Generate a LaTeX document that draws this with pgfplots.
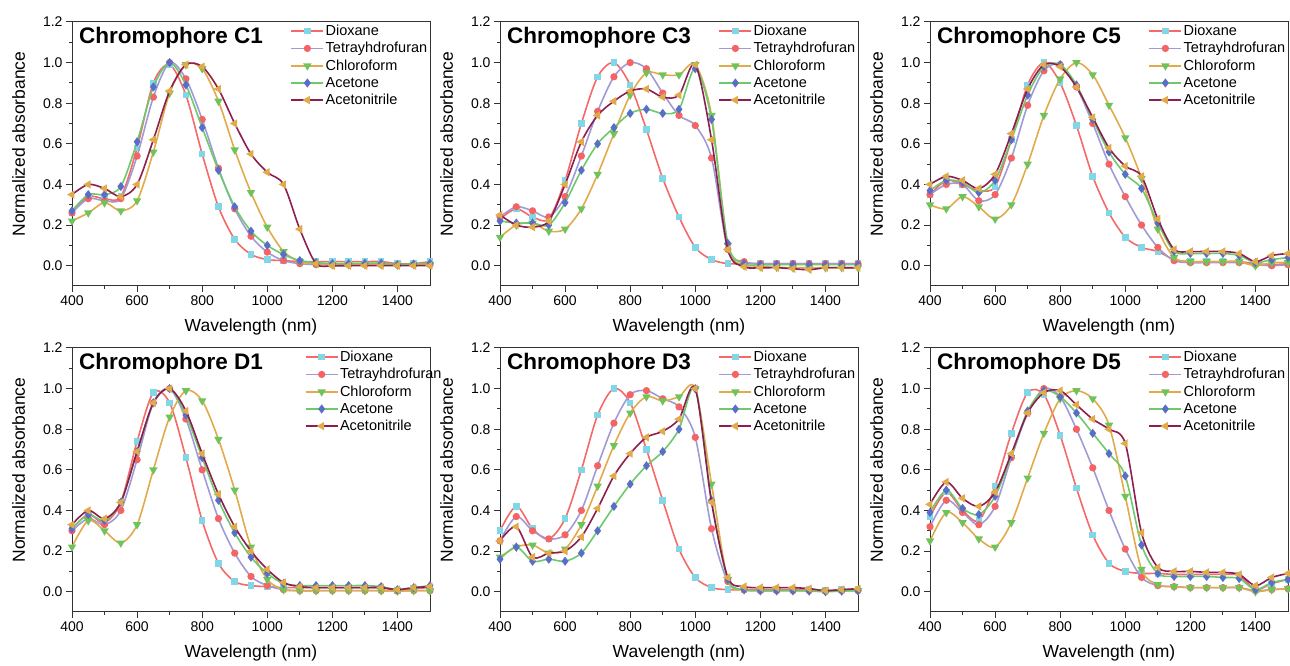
\documentclass[border=0pt]{standalone}
\usepackage{fontspec}
\setmainfont{Liberation Sans}
\usepackage{pgfplots}
\usepackage{pgfplotstable}
\pgfplotsset{compat=1.18}

\definecolor{cDioL}{RGB}{245,105,105}
\definecolor{cDioM}{RGB}{130,215,230}
\definecolor{cThfL}{RGB}{160,155,215}
\definecolor{cThfM}{RGB}{245,100,100}
\definecolor{cChlL}{RGB}{225,170,75}
\definecolor{cChlM}{RGB}{110,195,90}
\definecolor{cAceL}{RGB}{110,200,110}
\definecolor{cAceM}{RGB}{90,110,200}
\definecolor{cAcnL}{RGB}{140,30,80}
\definecolor{cAcnM}{RGB}{225,170,75}

\pgfplotstableread{
x a b c d e
400 0.26 0.26 0.22 0.27 0.35
450 0.34 0.33 0.26 0.35 0.40
500 0.33 0.32 0.31 0.35 0.38
550 0.34 0.33 0.27 0.39 0.34
600 0.58 0.54 0.32 0.61 0.40
650 0.90 0.83 0.56 0.88 0.62
700 0.99 1.00 0.85 1.00 0.86
750 0.84 0.92 0.99 0.89 0.99
800 0.55 0.72 0.97 0.68 0.98
850 0.29 0.48 0.81 0.47 0.87
900 0.13 0.28 0.57 0.29 0.70
950 0.056 0.145 0.36 0.17 0.55
1000 0.03 0.067 0.19 0.10 0.46
1050 0.025 0.025 0.07 0.055 0.40
1100 0.02 0.01 0.02 0.025 0.18
1150 0.02 0.005 0.01 0.015 0.01
1200 0.02 0.005 0.005 0.01 0.0
1250 0.02 0.005 0.005 0.01 0.0
1300 0.02 0.005 0.005 0.012 0.0
1350 0.02 0.005 0.005 0.012 0.0
1400 0.01 0.003 0.003 0.005 0.0
1450 0.01 0.005 0.005 0.008 0.0
1500 0.02 0.005 0.005 0.012 0.0
}\tabCone

\pgfplotstableread{
x a b c d e
400 0.23 0.24 0.14 0.22 0.25
450 0.28 0.29 0.20 0.21 0.20
500 0.24 0.27 0.21 0.21 0.19
550 0.23 0.24 0.17 0.20 0.22
600 0.42 0.34 0.18 0.31 0.40
650 0.70 0.54 0.28 0.47 0.61
700 0.93 0.76 0.45 0.60 0.74
750 1.00 0.93 0.65 0.68 0.81
800 0.89 1.00 0.84 0.75 0.86
850 0.67 0.97 0.95 0.77 0.87
900 0.43 0.85 0.94 0.75 0.83
950 0.24 0.74 0.94 0.77 0.84
1000 0.09 0.69 0.99 0.97 0.99
1050 0.03 0.53 0.74 0.72 0.62
1100 0.01 0.08 0.10 0.11 0.08
1150 0.01 0.02 0.0 0.01 -0.005
1200 0.01 0.01 -0.005 0.005 -0.01
1250 0.01 0.01 -0.008 0.005 -0.01
1300 0.01 0.01 -0.01 0.005 -0.015
1350 0.01 0.01 -0.01 0.005 -0.02
1400 0.01 0.01 -0.01 0.005 -0.01
1450 0.01 0.01 -0.01 0.005 -0.01
1500 0.01 0.01 -0.01 0.005 -0.01
}\tabCthree

\pgfplotstableread{
x a b c d e
400 0.35 0.35 0.30 0.37 0.40
450 0.42 0.40 0.28 0.42 0.44
500 0.40 0.40 0.34 0.41 0.42
550 0.37 0.32 0.29 0.36 0.38
600 0.39 0.35 0.23 0.42 0.45
650 0.62 0.53 0.30 0.62 0.65
700 0.89 0.79 0.50 0.84 0.87
750 1.00 0.96 0.74 0.98 0.99
800 0.90 0.99 0.92 0.99 0.98
850 0.69 0.88 1.00 0.89 0.88
900 0.44 0.70 0.94 0.72 0.73
950 0.26 0.50 0.79 0.56 0.58
1000 0.14 0.34 0.63 0.45 0.49
1050 0.09 0.20 0.43 0.38 0.44
1100 0.07 0.09 0.18 0.21 0.23
1150 0.03 0.025 0.04 0.07 0.08
1200 0.02 0.015 0.02 0.06 0.07
1250 0.02 0.015 0.02 0.06 0.07
1300 0.02 0.015 0.02 0.06 0.07
1350 0.02 0.015 0.02 0.05 0.06
1400 0.01 0.005 0.0 0.015 0.02
1450 0.005 0.0 0.015 0.03 0.05
1500 0.01 0.005 0.015 0.04 0.06
}\tabCfive

\pgfplotstableread{
x a b c d e
400 0.31 0.30 0.22 0.31 0.33
450 0.38 0.36 0.35 0.38 0.40
500 0.34 0.33 0.30 0.35 0.36
550 0.44 0.40 0.24 0.44 0.44
600 0.74 0.65 0.33 0.69 0.69
650 0.98 0.93 0.60 0.93 0.93
700 0.93 1.00 0.86 1.00 1.00
750 0.66 0.85 0.99 0.87 0.89
800 0.35 0.60 0.94 0.66 0.68
850 0.14 0.36 0.75 0.45 0.48
900 0.05 0.19 0.50 0.29 0.32
950 0.03 0.075 0.22 0.17 0.20
1000 0.025 0.03 0.06 0.09 0.11
1050 0.02 0.01 0.01 0.04 0.045
1100 0.02 0.005 0.005 0.03 0.025
1150 0.02 0.005 0.005 0.03 0.02
1200 0.02 0.005 0.005 0.03 0.02
1250 0.02 0.005 0.005 0.03 0.02
1300 0.02 0.005 0.005 0.03 0.02
1350 0.02 0.005 0.005 0.025 0.02
1400 0.005 0.003 0.003 0.01 0.01
1450 0.015 0.005 0.005 0.02 0.02
1500 0.02 0.005 0.005 0.03 0.025
}\tabDone

\pgfplotstableread{
x a b c d e
400 0.30 0.25 0.17 0.16 0.25
450 0.42 0.37 0.22 0.22 0.32
500 0.31 0.30 0.23 0.15 0.17
550 0.26 0.26 0.19 0.16 0.19
600 0.36 0.28 0.21 0.15 0.20
650 0.60 0.40 0.33 0.19 0.27
700 0.87 0.62 0.52 0.30 0.41
750 1.00 0.83 0.72 0.42 0.57
800 0.93 0.97 0.88 0.53 0.68
850 0.70 0.99 0.96 0.62 0.76
900 0.45 0.95 0.94 0.69 0.79
950 0.21 0.91 0.96 0.80 0.85
1000 0.07 0.76 1.00 1.00 1.00
1050 0.02 0.31 0.53 0.45 0.44
1100 0.01 0.05 0.06 0.06 0.07
1150 0.01 0.01 0.01 0.01 0.025
1200 0.01 0.005 0.005 0.005 0.02
1250 0.01 0.005 0.005 0.005 0.02
1300 0.01 0.005 0.005 0.005 0.02
1350 0.01 0.005 0.005 0.003 0.015
1400 0.005 0.003 0.003 0.0 0.005
1450 0.01 0.005 0.005 0.003 0.01
1500 0.01 0.005 0.005 0.005 0.015
}\tabDthree

\pgfplotstableread{
x a b c d e
400 0.37 0.32 0.25 0.39 0.43
450 0.49 0.45 0.39 0.50 0.54
500 0.40 0.39 0.34 0.41 0.46
550 0.35 0.33 0.26 0.38 0.42
600 0.52 0.42 0.22 0.47 0.49
650 0.78 0.66 0.34 0.67 0.68
700 0.98 0.88 0.56 0.89 0.88
750 0.97 1.00 0.78 0.99 0.98
800 0.77 0.96 0.95 0.96 0.99
850 0.51 0.80 0.99 0.88 0.92
900 0.28 0.61 0.95 0.78 0.85
950 0.14 0.40 0.82 0.68 0.80
1000 0.10 0.21 0.47 0.57 0.73
1050 0.09 0.07 0.11 0.23 0.29
1100 0.09 0.03 0.035 0.09 0.12
1150 0.085 0.025 0.025 0.075 0.10
1200 0.085 0.02 0.02 0.075 0.10
1250 0.085 0.02 0.02 0.075 0.095
1300 0.085 0.02 0.02 0.07 0.095
1350 0.08 0.02 0.02 0.065 0.085
1400 0.01 0.005 0.0 0.01 0.03
1450 0.04 0.01 0.01 0.045 0.07
1500 0.06 0.015 0.015 0.06 0.09
}\tabDfive

\pgfplotsset{
  panel/.style={
    scale only axis, width=358pt, height=264pt,
    xmin=400, xmax=1500, ymin=-0.1, ymax=1.2,
    xtick={400,600,...,1400}, ytick={0,0.2,...,1.2},
    minor x tick num=1, minor y tick num=1,
    tick align=outside, xtick pos=bottom, ytick pos=left,
    major tick length=6pt, minor tick length=3pt,
    axis line style={line width=1pt, black!80},
    every tick/.style={black!80, line width=1pt},
    clip mode=individual,
    /pgf/number format/assume math mode=true,
    ticklabel style={font=\fontsize{14}{16}\selectfont},
    yticklabel style={/pgf/number format/.cd, fixed, fixed zerofill, precision=1},
    xticklabel style={/pgf/number format/.cd, fixed, 1000 sep={}},
    xlabel={Wavelength (nm)}, ylabel={Normalized absorbance},
    label style={font=\fontsize{17.5}{20}\selectfont},
    xlabel style={at={(axis description cs:0.5,-0.174)}, anchor=base},
    ylabel style={at={(axis description cs:-0.149,0.538)}, anchor=center},
    legend style={draw=none, fill=none, at={(axis description cs:0.61,0.995)}, anchor=north west,
      font=\fontsize{14.5}{16}\selectfont, row sep=2.4pt, inner sep=0pt,
      nodes={inner sep=1.5pt}},
    legend cell align=left,
    legend image code/.code={\draw[mark repeat=2,mark phase=2] plot coordinates {(0pt,0pt) (16pt,0pt) (32pt,0pt)};},
  },
  sDio/.style={color=cDioL, line width=1.6pt, smooth, mark=square*, mark size=2.5pt, mark options={draw=cDioM, fill=cDioM, solid}},
  sThf/.style={color=cThfL, line width=1.6pt, smooth, mark=*, mark size=2.8pt, mark options={draw=cThfM, fill=cThfM, solid}},
  sChl/.style={color=cChlL, line width=1.6pt, smooth, mark=triangle*, mark size=3.3pt, mark options={draw=cChlM, fill=cChlM, solid, rotate=180}},
  sAce/.style={color=cAceL, line width=1.6pt, smooth, mark=diamond*, mark size=3.3pt, mark options={draw=cAceM, fill=cAceM, solid}},
  sAcn/.style={color=cAcnL, line width=1.6pt, smooth, mark=triangle*, mark size=3.3pt, mark options={draw=cAcnM, fill=cAcnM, solid, rotate=90}},
}

\newcommand{\panelplots}[2]{%
  \addplot[sDio] table[x=x,y=a]{#1};
  \addplot[sThf] table[x=x,y=b]{#1};
  \addplot[sChl] table[x=x,y=c]{#1};
  \addplot[sAce] table[x=x,y=d]{#1};
  \addplot[sAcn] table[x=x,y=e]{#1};
  \legend{Dioxane,Tetrayhdrofuran,Chloroform,Acetone,Acetonitrile}
  \node[anchor=base west, inner sep=0pt, font=\bfseries\fontsize{22.5}{26}\selectfont] at (rel axis cs:0.0195,0.92) {#2};
}

\begin{document}
\begin{tikzpicture}
\useasboundingbox (0pt,0pt) rectangle (1290pt,666pt);
\begin{axis}[panel, at={(72pt,380pt)}, anchor=south west]
\panelplots{\tabCone}{Chromophore C1}
\end{axis}
\begin{axis}[panel, at={(500pt,380pt)}, anchor=south west]
\panelplots{\tabCthree}{Chromophore C3}
\end{axis}
\begin{axis}[panel, at={(930pt,380pt)}, anchor=south west]
\panelplots{\tabCfive}{Chromophore C5}
\end{axis}
\begin{axis}[panel, at={(72pt,54pt)}, anchor=south west, legend style={at={(axis description cs:0.65,0.995)}}]
\panelplots{\tabDone}{Chromophore D1}
\end{axis}
\begin{axis}[panel, at={(500pt,54pt)}, anchor=south west]
\panelplots{\tabDthree}{Chromophore D3}
\end{axis}
\begin{axis}[panel, at={(930pt,54pt)}, anchor=south west]
\panelplots{\tabDfive}{Chromophore D5}
\end{axis}
\end{tikzpicture}
\end{document}
